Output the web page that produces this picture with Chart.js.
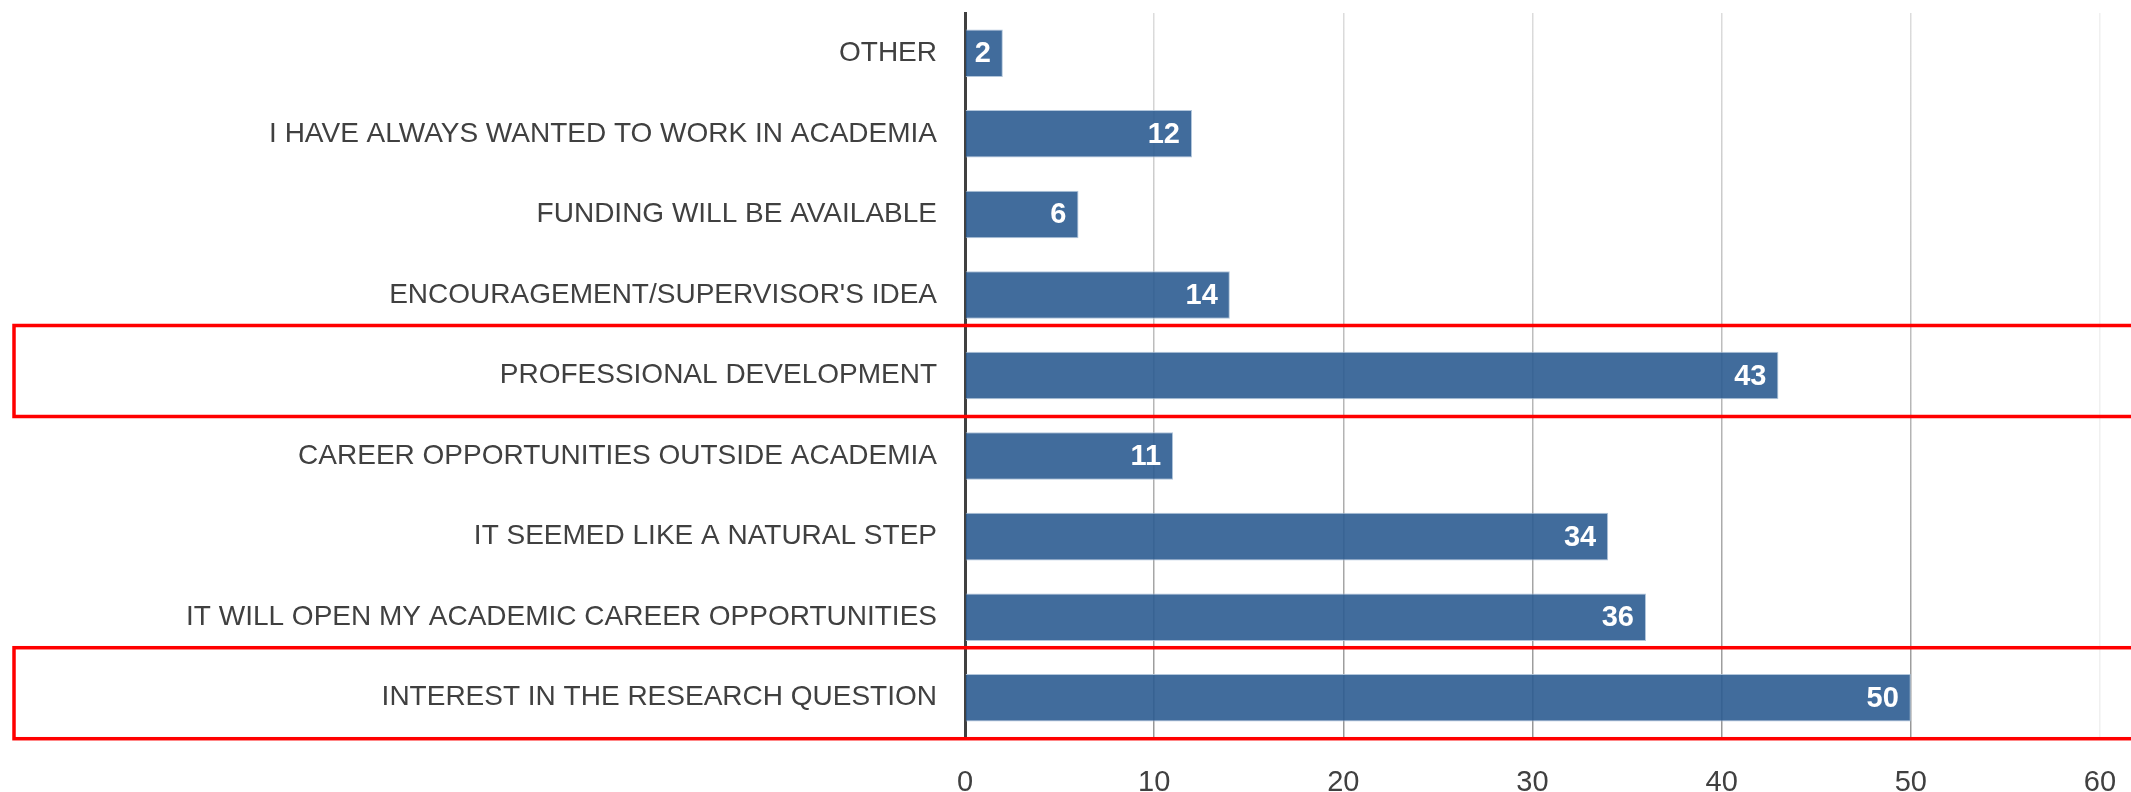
<!DOCTYPE html>
<html>
<head>
<meta charset="utf-8">
<script src="https://cdn.jsdelivr.net/npm/chart.js@4.4.1/dist/chart.umd.min.js"></script>
<style>
html,body{margin:0;padding:0;background:#fff;}
#wrap{position:relative;width:2131px;height:792px;}
</style>
</head>
<body>
<div id="wrap"><canvas id="c" width="2131" height="792"></canvas></div>
<script>
const categories = [
  "OTHER",
  "I HAVE ALWAYS WANTED TO WORK IN ACADEMIA",
  "FUNDING WILL BE AVAILABLE",
  "ENCOURAGEMENT/SUPERVISOR'S IDEA",
  "PROFESSIONAL DEVELOPMENT",
  "CAREER OPPORTUNITIES OUTSIDE ACADEMIA",
  "IT SEEMED LIKE A NATURAL STEP",
  "IT WILL OPEN MY ACADEMIC CAREER OPPORTUNITIES",
  "INTEREST IN THE RESEARCH QUESTION"
];
const responses = [2, 12, 6, 14, 43, 11, 34, 36, 50];
const highlighted = ["PROFESSIONAL DEVELOPMENT", "INTEREST IN THE RESEARCH QUESTION"];
const xTicks = [0, 10, 20, 30, 40, 50, 60];

const FONT = "'Liberation Sans', Arial, sans-serif";

const barLabels = {
  id: 'barLabels',
  afterDatasetsDraw(chart) {
    const ctx = chart.ctx;
    const meta = chart.getDatasetMeta(0);
    ctx.save();
    ctx.fillStyle = '#ffffff';
    ctx.font = 'bold 29px ' + FONT;
    ctx.textAlign = 'right';
    ctx.textBaseline = 'middle';
    meta.data.forEach((bar, i) => {
      ctx.fillText(String(responses[i]), bar.x - 12, bar.y + 1);
    });
    ctx.restore();
  }
};

const highlightBoxes = {
  id: 'highlightBoxes',
  afterDraw(chart) {
    const ctx = chart.ctx;
    const y = chart.scales.y;
    ctx.save();
    ctx.strokeStyle = '#ff0000';
    ctx.lineWidth = 3.5;
    highlighted.forEach(name => {
      const idx = categories.indexOf(name);
      const cy = y.getPixelForValue(idx);
      ctx.strokeRect(14, cy - 50, chart.width + 20, 91);
    });
    ctx.restore();
  }
};

new Chart(document.getElementById('c'), {
  type: 'bar',
  data: {
    labels: categories,
    datasets: [{
      data: responses,
      backgroundColor: 'rgba(44,92,145,0.9)',
      borderColor: 'rgba(170,192,215,0.9)',
      borderWidth: 1,
      borderSkipped: 'start',
      barPercentage: 0.59,
      categoryPercentage: 1.0
    }]
  },
  options: {
    indexAxis: 'y',
    responsive: false,
    animation: false,
    devicePixelRatio: 1,
    layout: { padding: { top: 13, right: 31, left: 0, bottom: 0 } },
    plugins: { legend: { display: false }, tooltip: { enabled: false } },
    scales: {
      x: {
        min: 0, max: 60,
        afterBuildTicks(scale) { scale.ticks = xTicks.map(v => ({ value: v })); },
        afterFit(scale) { scale.height = 54; scale.paddingLeft = 0; scale.paddingRight = 0; },
        grid: {
          drawTicks: false,
          lineWidth: 1.5,
          color(ctx) {
            const chart = ctx.chart;
            const a = chart.chartArea;
            if (!a) return '#cccccc';
            if (ctx.tick && ctx.tick.value === 60) return 'rgba(240,240,240,1)';
            const g = chart.ctx.createLinearGradient(0, a.top, 0, a.bottom);
            g.addColorStop(0, 'rgba(220,220,220,1)');
            g.addColorStop(1, 'rgba(150,150,150,1)');
            return g;
          }
        },
        border: { display: false },
        ticks: { color: '#404040', font: { family: FONT, size: 29 }, padding: 28 }
      },
      y: {
        afterFit(scale) { scale.width = 965; scale.paddingTop = 0; scale.paddingBottom = 0; },
        grid: { display: false, drawTicks: false },
        border: { display: true, color: '#404040', width: 3 },
        ticks: { color: '#404040', font: { family: FONT, size: 28 }, padding: 28 }
      }
    }
  },
  plugins: [barLabels, highlightBoxes]
});
</script>
</body>
</html>
